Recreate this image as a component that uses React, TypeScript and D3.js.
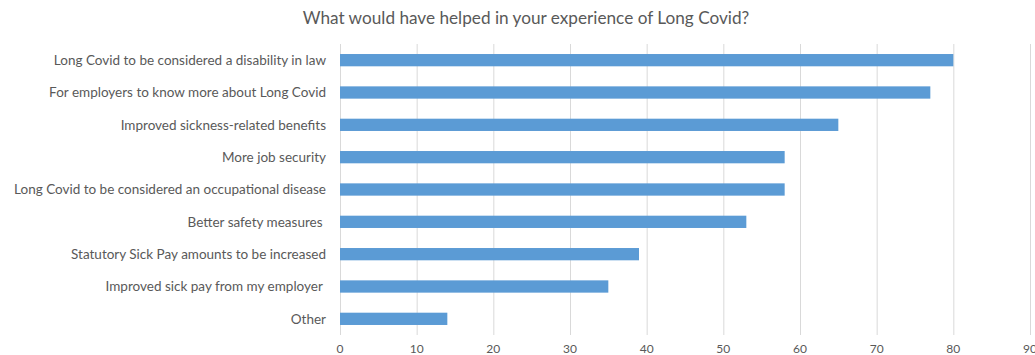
import React from "react";
import * as d3 from "d3";

const categories = [
  "Long Covid to be considered a disability in law",
  "For employers to know more about Long Covid",
  "Improved sickness-related benefits",
  "More job security",
  "Long Covid to be considered an occupational disease",
  "Better safety measures ",
  "Statutory Sick Pay amounts to be increased",
  "Improved sick pay from my employer ",
  "Other",
];
const values = [80, 77, 65, 58, 58, 53, 39, 35, 14];
const xTicks = [0, 10, 20, 30, 40, 50, 60, 70, 80, 90];
const title = "What would have helped in your experience of Long Covid?";

const W = 1035;
const H = 355;
const left = 340;
const right = 1030;
const top = 44;
const bottom = 335;
const FONT = "Lato, 'Open Sans', sans-serif";
const TXT = "#595959";

export default function App() {
  const x = d3.scaleLinear().domain([0, 90]).range([left, right]);
  const y = d3.scaleBand<string>().domain(categories).range([top, bottom]).paddingInner(0.62).paddingOuter(0.31);
  return (
    <svg width={W} height={H} style={{ position: "absolute", left: 0, top: 0, background: "#fff" }}>
      <text x={526} y={24} textAnchor="middle" fontFamily={FONT} fontSize={17.2} fill={TXT}>{title}</text>
      {xTicks.map((t) => (
        <line key={"g" + t} x1={x(t) + 0.5} x2={x(t) + 0.5} y1={top} y2={bottom} stroke="#D9D9D9" strokeWidth={1} />
      ))}
      {categories.map((c, i) => (
        <rect key={"b" + i} x={x(0)} y={y(c)} width={x(values[i]) - x(0)} height={y.bandwidth()} fill="#5B9BD5" />
      ))}
      {categories.map((c, i) => (
        <text key={"l" + i} x={326} y={(y(c) as number) + y.bandwidth() / 2} dy="0.35em" textAnchor="end"
          fontFamily={FONT} fontSize={13.5} fill={TXT} style={{ whiteSpace: "pre" }}>{c}</text>
      ))}
      {xTicks.map((t) => (
        <text key={"t" + t} x={x(t)} y={353} textAnchor="middle" fontFamily={FONT} fontSize={12} fill={TXT}>{t}</text>
      ))}
    </svg>
  );
}
